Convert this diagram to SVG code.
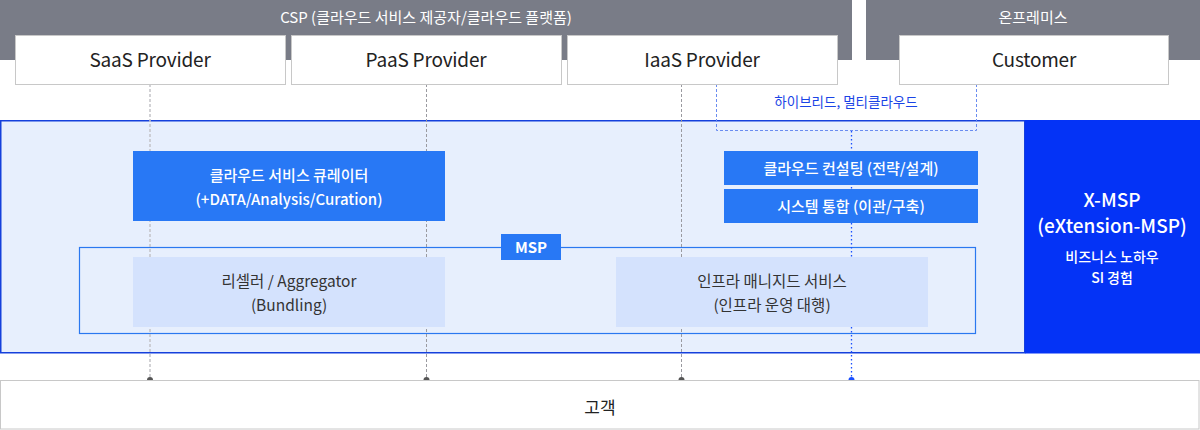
<svg xmlns="http://www.w3.org/2000/svg" width="1200" height="430" viewBox="0 0 1200 430">
<style>
text{font-family:"Noto Sans CJK KR","Noto Sans",sans-serif;text-anchor:middle}
.band{fill:#797c87}
.bandt{fill:#fff;font-size:15px}
.prov{fill:#fff;stroke:#c8c8c8;stroke-width:1}
.provt{fill:#222;font-size:19px;letter-spacing:-0.2px}
.mid{fill:#2878f5}
.midt{fill:#fff;font-size:15px;font-weight:500}
.light{fill:#d4e2fd}
.lightt{fill:#333;font-size:15.5px}
.dot{fill:#555}
</style>
<rect width="1200" height="430" fill="#fff"/>
<g id="csp-band">
<rect class="band" x="0" y="0" width="852" height="60"/>
<text class="bandt" x="426" y="23">CSP (클라우드 서비스 제공자/클라우드 플랫폼)</text>
</g>
<g id="onprem-band">
<rect class="band" x="866" y="0" width="334" height="60"/>
<text class="bandt" x="1033" y="23">온프레미스</text>
</g>
<g id="msp-area">
<rect x="0.75" y="120.75" width="1024" height="232" fill="#e7effd" stroke="#1540dc" stroke-width="1.5"/>
</g>
<g id="xmsp">
<rect x="1025" y="120" width="175" height="233.5" fill="#0433f6"/>
<text x="1112" y="207" fill="#fff" font-size="19" font-weight="500">X-MSP</text>
<text x="1112" y="233" fill="#fff" font-size="19" font-weight="500">(eXtension-MSP)</text>
<text x="1112" y="262" fill="#fff" font-size="14" font-weight="500">비즈니스 노하우</text>
<text x="1112" y="283" fill="#fff" font-size="14" font-weight="500">SI 경험</text>
</g>
<g id="msp-box">
<rect x="79.5" y="247.5" width="896" height="86" fill="none" stroke="#2a78f0" stroke-width="1.2"/>
<rect class="mid" x="501" y="234" width="60" height="26"/>
<text x="531" y="253" fill="#fff" font-size="15" font-weight="700">MSP</text>
</g>
<g id="connectors" fill="none">
<line x1="150" y1="84" x2="150" y2="380" stroke="#c4c4c8" stroke-width="1.5" stroke-dasharray="3,2"/>
<line x1="426.5" y1="84" x2="426.5" y2="380" stroke="#9a9aa0" stroke-width="1" stroke-dasharray="3,2"/>
<line x1="681.5" y1="84" x2="681.5" y2="380" stroke="#9a9aa0" stroke-width="1" stroke-dasharray="3,2"/>
<polyline points="716.5,84 716.5,130.5 976.5,130.5 976.5,84" stroke="#6a8cf0" stroke-width="1" stroke-dasharray="3,2"/>
<line x1="851.5" y1="131" x2="851.5" y2="380" stroke="#1a4fff" stroke-width="1.3" stroke-dasharray="1.5,2.5"/>
<circle class="dot" cx="150" cy="380" r="3"/>
<circle class="dot" cx="426.5" cy="380" r="3"/>
<circle class="dot" cx="681.5" cy="380" r="3"/>
<circle cx="851.5" cy="380" r="3" fill="#1a4fff"/>
</g>
<g id="hybrid-label">
<text x="846" y="107" fill="#1a44e6" font-size="13.5">하이브리드, 멀티클라우드</text>
</g>
<g id="saas">
<rect class="prov" x="15.5" y="35.5" width="270" height="49"/>
<text class="provt" x="150" y="67">SaaS Provider</text>
</g>
<g id="paas">
<rect class="prov" x="291.5" y="35.5" width="270" height="49"/>
<text class="provt" x="426" y="67">PaaS Provider</text>
</g>
<g id="iaas">
<rect class="prov" x="567.5" y="35.5" width="270" height="49"/>
<text class="provt" x="702" y="67">IaaS Provider</text>
</g>
<g id="customer">
<rect class="prov" x="899.5" y="35.5" width="269" height="49"/>
<text class="provt" x="1034" y="67">Customer</text>
</g>
<g id="curator">
<rect class="mid" x="133" y="151" width="312" height="70"/>
<text class="midt" x="289" y="181">클라우드 서비스 큐레이터</text>
<text class="midt" x="289" y="205">(+DATA/Analysis/Curation)</text>
</g>
<g id="consulting">
<rect class="mid" x="724" y="151" width="254" height="34"/>
<text class="midt" x="851" y="174">클라우드 컨설팅 (전략/설계)</text>
</g>
<g id="integration">
<rect class="mid" x="724" y="189" width="254" height="34"/>
<text class="midt" x="851" y="212">시스템 통합 (이관/구축)</text>
</g>
<g id="reseller">
<rect class="light" x="133" y="257" width="312" height="70"/>
<text class="lightt" x="289" y="287">리셀러 / Aggregator</text>
<text class="lightt" x="289" y="311">(Bundling)</text>
</g>
<g id="infra">
<rect class="light" x="616" y="257" width="312" height="70"/>
<text class="lightt" x="772" y="287">인프라 매니지드 서비스</text>
<text class="lightt" x="772" y="311">(인프라 운영 대행)</text>
</g>
<g id="client">
<rect x="0.5" y="380.5" width="1198.5" height="48.5" fill="#fff" stroke="#c8c8c8" stroke-width="1"/>
<text x="600" y="414" fill="#222" font-size="17">고객</text>
</g>
</svg>
